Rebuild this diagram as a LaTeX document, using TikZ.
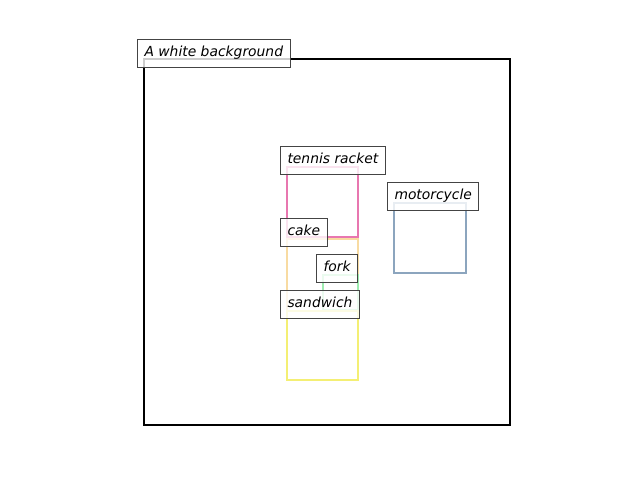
\documentclass[tikz,border=0pt]{standalone}
\usepackage{fontspec}
\setmainfont{DejaVu Sans}
\definecolor{racketpink}{HTML}{E877B0}
\definecolor{motorblue}{HTML}{8CA5BE}
\definecolor{cakeorange}{HTML}{F8DBA2}
\definecolor{forkgreen}{HTML}{9EEDB0}
\definecolor{sandyellow}{HTML}{F4EF74}
\definecolor{labelgray}{HTML}{444444}
\begin{document}
\begin{tikzpicture}[x=0.75pt,y=-0.75pt,
	box/.style={line width=1.9pt},
	tag/.style={draw=labelgray,line width=0.75pt,fill=white,fill opacity=0.8,text opacity=1,anchor=south west,
		inner xsep=5.25pt,inner ysep=5pt,text height=7.7pt,text depth=2.6pt,
		font=\fontsize{10.4}{12}\selectfont\itshape}]
\useasboundingbox (0,0) rectangle (640,480);

\draw[line width=1.5pt] (144,59) rectangle (510,425);
\foreach \xa/\ya/\xb/\yb/\c in {287/167/358/237/racketpink, 394/203/466/273/motorblue,
	287/239/358/311/cakeorange, 323/275/358/310/forkgreen, 287/311/358/380/sandyellow}
	\draw[box,\c] (\xa,\ya) rectangle (\xb,\yb);

\node[tag] at (137,67.5) (bg) {A white background};
\node[tag] at (280,174.5) (racket) {tennis racket};
\node[tag] at (387,210.5) (motor) {motorcycle};
\node[tag] at (280,246.5) (cake) {cake};
\node[tag] at (316,282.5) (fork) {fork};
\node[tag] at (280,318.5) (sandwich) {sandwich};
\end{tikzpicture}
\end{document}
